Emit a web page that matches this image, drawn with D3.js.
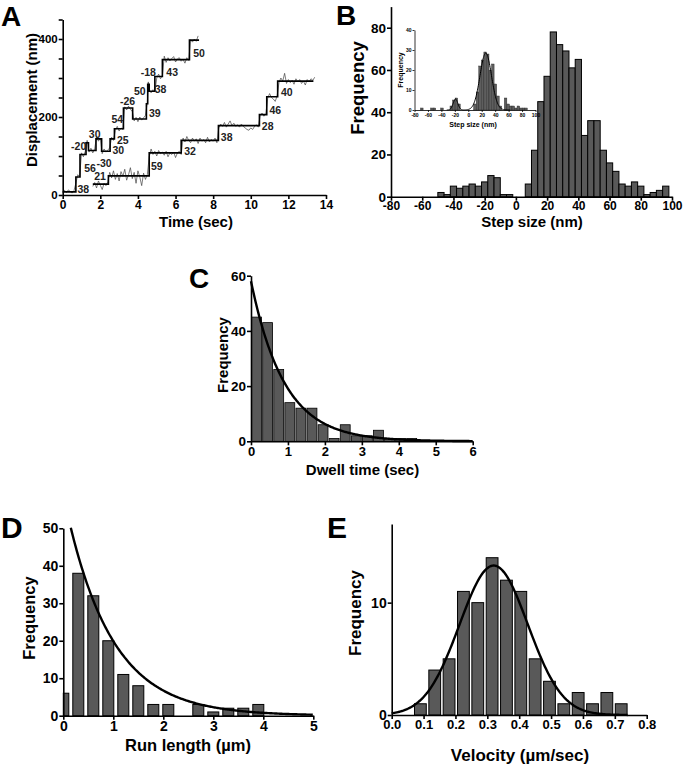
<!DOCTYPE html>
<html>
<head>
<meta charset="utf-8">
<script src="https://cdn.jsdelivr.net/npm/d3@7"></script>
<style>
  html, body { margin: 0; padding: 0; background: #fff; }
  svg { display: block; }
</style>
</head>
<body>
<svg id="fig" width="685" height="766"></svg>
<script>
// ---------------- DATA ----------------
// Panel A: raw traces [time (s), displacement (nm)]
const traceA1 = [[0,8],[0.1,12],[0.2,6],[0.3,13],[0.4,9],[0.5,5],[0.6,11],[0.7,30],[0.8,52],[0.9,47],
  [1.0,108],[1.1,98],[1.2,112],[1.3,140],[1.4,110],[1.5,120],[1.6,108],[1.7,118],[1.8,150],[1.9,138],
  [2.0,146],[2.1,106],[2.2,118],[2.3,110],[2.4,116],[2.5,120],[2.6,148],[2.7,140],[2.8,166],[2.9,176],
  [3.0,164],[3.1,172],[3.2,168],[3.3,226],[3.4,218],[3.5,228],[3.6,220],[3.7,214],[3.8,190],[3.9,199],
  [4.0,188],[4.1,200],[4.2,192],[4.3,198],[4.4,204],[4.5,238],[4.55,290],[4.6,270],[4.7,262],[4.8,270],
  [4.9,264],[5.0,300],[5.1,310],[5.2,298],[5.3,306],[5.4,356],[5.5,340],[5.6,352],[5.7,344],[5.8,350],
  [5.9,355],[6.0,341],[6.1,349],[6.2,352],[6.3,343],[6.4,348],[6.5,338],[6.6,352],[6.7,345],[6.8,398],
  [6.9,392],[7.0,400],[7.1,394],[7.2,408]];
const traceA2 = [[1.6,22],[1.7,32],[1.8,18],[1.9,36],[2.0,25],[2.1,14],[2.2,30],[2.3,24],[2.4,34],[2.5,58],
  [2.6,44],[2.7,62],[2.8,40],[2.9,55],[3.0,36],[3.1,60],[3.2,48],[3.3,66],[3.4,38],[3.5,52],[3.6,70],
  [3.7,42],[3.8,58],[3.9,30],[4.0,62],[4.1,46],[4.2,24],[4.3,56],[4.4,40],[4.5,52],[4.6,98],[4.7,118],
  [4.8,104],[4.9,112],[5.0,100],[5.1,114],[5.2,106],[5.3,110],[5.4,102],[5.5,112],[5.6,98],[5.7,108],
  [5.8,104],[5.9,110],[6.0,96],[6.1,108],[6.2,112],[6.3,104],[6.4,146],[6.5,136],[6.6,150],[6.7,140],
  [6.8,134],[6.9,146],[7.0,138],[7.1,144],[7.2,132],[7.3,146],[7.4,138],[7.5,142],[7.6,134],[7.7,148],
  [7.8,136],[7.9,142],[8.0,138],[8.1,146],[8.2,134],[8.3,172],[8.4,182],[8.5,176],[8.6,186],[8.7,174],
  [8.8,182],[8.9,190],[9.0,178],[9.1,184],[9.2,176],[9.3,180],[9.4,174],[9.5,182],[9.6,176],[9.7,172],
  [9.8,168],[9.9,166],[10.0,172],[10.1,168],[10.2,176],[10.3,180],[10.4,174],[10.5,204],[10.6,210],
  [10.7,202],[10.8,208],[10.9,248],[11.0,260],[11.1,250],[11.2,246],[11.3,240],[11.4,254],[11.5,288],
  [11.6,300],[11.7,292],[11.8,312],[11.9,286],[12.0,296],[12.1,288],[12.2,294],[12.3,284],[12.4,298],
  [12.5,290],[12.6,296],[12.7,286],[12.8,292],[12.9,282],[13.0,296],[13.1,290],[13.2,298],[13.3,294],[13.4,302]];
// fitted staircases
const stepTimesA1  = [0, 0.7, 0.92, 1.24, 1.37, 1.77, 2.07, 2.52, 2.75, 3.23, 3.72, 4.45, 4.52, 4.6, 4.9, 5.3, 6.74, 7.25];
const stepLevelsA1 = [8, 46, 104, 134, 114, 144, 112, 144, 170, 223, 195, 234, 284, 266, 304, 347, 397, 397];
const stepTimesA2  = [1.6, 2.43, 4.6, 6.3, 8.28, 10.46, 10.85, 11.43, 13.33];
const stepLevelsA2 = [28, 49, 108, 140, 178, 206, 252, 292, 292];
// step-size annotations [label, time, displacement]
const stepLabelsA = [["38",1.1,15],["56",1.45,68],["-20",0.85,126],["30",1.7,157],["-30",2.2,82],
  ["30",2.96,116],["25",3.2,141],["54",2.9,194],["-26",3.45,242],["39",4.9,210],["50",4.1,266],
  ["-18",4.55,316],["38",5.2,272],["43",5.82,316],["50",7.25,364],
  ["21",1.99,50],["59",5.0,75],["32",6.77,112],["38",8.72,150],["28",10.9,178],["46",11.3,218],["40",11.92,264]];
const ticksAx = [0,2,4,6,8,10,12,14];
const ticksAy = [0,50,100,150,200,250,300,350,400,450];

// Panel B: step-size histogram (bin start nm, width 4 nm)
const stepBinStart = [-50,-46,-42,-38,-34,-30,-26,-22,-18,-14,-10,-6,-2,2,6,10,14,18,22,26,30,34,38,42,46,50,54,58,62,66,70,74,78,82,86,90,94];
const stepCounts   = [2,1,5,4,5,6,5,7,10,9,1,1,0,0,6,22,45,57,78,72,69,61,65,29,36,36,22,16,12,6,5,7,5,1,2,3,5];
const ticksBx = [-80,-60,-40,-20,0,20,40,60,80,100];
const ticksBy = [0,20,40,60,80];
// Panel B inset histogram (bin width 3.8 nm)
const insetBinStart = [-71,-56,-52.2,-41,-27.2,-23.4,-19.6,-15.8,8,11.8,15.6,19.4,23.2,27,30.8,34.6,38.4,42.2,46,49.8,53.6,57.4,61.2,65,68.8,72.6,76.4,80.2,84];
const insetCounts   = [1,1,1,1,2,5,6,3,3,9,22,25,29,28,20,23,13,7,2,0,6,3,2,2,1,2,1,1,1];
const insetFit = {a1: 28.5, m1: 26, s1: 8.5, a2: 5.5, m2: -19, s2: 3.5};
const ticksInsetY = [0,10,20,30,40];

// Panel C: dwell time histogram (bin start s, width 0.3 s)
const dwellBinStart = [0,0.3,0.6,0.9,1.2,1.5,1.8,2.1,2.4,2.7,3.0,3.3,3.6,3.9,4.2];
const dwellCounts   = [45,43,26,14,12,12,6,1,6,2,2,4,1,1,1];
const dwellFit = {a: 58, tau: 0.9};
const ticksCx = [0,1,2,3,4,5,6];
const ticksCy = [0,20,40,60];

// Panel D: run length histogram (bin centre µm)
const runCenters = [0,0.3,0.6,0.9,1.2,1.5,1.8,2.1,2.4,2.7,3.0,3.3,3.6,3.9];
const runCounts  = [6,38,32,20,11,8,3,3,0,3,1,2,2,3];
const runFit = {a: 59, tau: 0.92, start: 0.15};
const ticksDx = [0,1,2,3,4,5];
const ticksDy = [0,10,20,30,40,50];

// Panel E: velocity histogram (bin centre µm/s)
const velCenters = [0.09,0.135,0.18,0.225,0.27,0.315,0.36,0.405,0.45,0.495,0.54,0.585,0.63,0.675,0.72];
const velCounts  = [1,4,5,11,10,14,12,11,5,3,1,2,1,2,1];
const velFit = {a: 13.3, mu: 0.32, sigma: 0.107};
const ticksEx = [0,0.1,0.2,0.3,0.4,0.5,0.6,0.7,0.8];
const ticksEy = [0,10];

// ---------------- DRAWING ----------------
const FONT = "'Liberation Sans', Arial, Helvetica, sans-serif";
const BAR = "#595959";
const svg = d3.select("#fig");
svg.append("rect").attr("width",685).attr("height",766).attr("fill","#fff");

function axes(g, x, y, o) {
  const bx = g.append("g").attr("transform", `translate(0,${y.range()[0]})`)
    .call(d3.axisBottom(x).tickValues(o.xt).tickFormat(o.xf || (d => d)).tickSize(o.ts || 4).tickSizeOuter(0).tickPadding(o.xpad || 1));
  const ly = g.append("g").attr("transform", `translate(${x.range()[0]},0)`)
    .call(d3.axisLeft(y).tickValues(o.yt).tickFormat(o.yf || (d => d)).tickSize(o.ts || 4).tickSizeOuter(0).tickPadding(o.ypad || 1));
  [bx, ly].forEach(a => {
    a.select(".domain").attr("stroke", "#000").attr("stroke-width", o.sw || 1.6);
    a.selectAll(".tick line").attr("stroke", "#000").attr("stroke-width", o.sw || 1.6);
    a.selectAll("text").attr("font-family", FONT).attr("font-weight", "bold").attr("fill", "#000");
  });
  bx.selectAll("text").attr("font-size", o.xfs);
  ly.selectAll("text").attr("font-size", o.yfs);
  return {bx, ly};
}
function title(x, y, text, size, rot) {
  const t = svg.append("text").attr("font-family", FONT).attr("font-weight", "bold")
    .attr("font-size", size).attr("text-anchor", "middle").attr("fill", "#000").text(text);
  if (rot) t.attr("dominant-baseline", "central").attr("transform", `translate(${x},${y}) rotate(-90)`);
  else t.attr("x", x).attr("y", y);
  return t;
}
function letter(x, y, s, size) {
  svg.append("text").attr("x", x).attr("y", y).attr("font-family", FONT).attr("font-weight", "bold")
    .attr("font-size", size).attr("fill", "#000").text(s);
}

// ---- Panel A ----
{
  const x = d3.scaleLinear().domain([0,14]).range([62.7, 326]);
  const y = d3.scaleLinear().domain([0,450]).range([195, 19.5]);
  const g = svg.append("g");
  const raw = d3.line().x(d => x(d[0])).y(d => y(d[1]));
  [traceA1, traceA2].forEach(tr => g.append("path").attr("d", raw(tr)).attr("fill","none")
    .attr("stroke","#444").attr("stroke-width",0.7));
  const stp = d3.line().x(d => x(d[0])).y(d => y(d[1])).curve(d3.curveStepAfter);
  [[stepTimesA1, stepLevelsA1],[stepTimesA2, stepLevelsA2]].forEach(([ts, ls]) =>
    g.append("path").attr("d", stp(ts.map((t,i) => [t, ls[i]]))).attr("fill","none")
      .attr("stroke","#000").attr("stroke-width",1.6));
  g.selectAll("text.lab").data(stepLabelsA).join("text").attr("class","lab")
    .attr("x", d => x(d[1])).attr("y", d => y(d[2])).attr("text-anchor","middle").attr("dominant-baseline","central")
    .attr("font-family", FONT).attr("font-weight","bold").attr("font-size",10.5).attr("fill","#222").text(d => d[0]);
  axes(g, x, y, {xt: ticksAx, yt: ticksAy, yf: d => (d % 200 === 0 ? d : ""), xfs: 12, yfs: 11.5});
  title(31, 100, "Displacement (nm)", 15, true);
  title(196, 227, "Time (sec)", 15);
  letter(1, 26, "A", 28);
}

// ---- Panel B ----
{
  const x = d3.scaleLinear().domain([-80,100]).range([391, 672]);
  const y = d3.scaleLinear().domain([0,90]).range([196.7, 6.6]);
  const g = svg.append("g");
  g.selectAll("rect.bar").data(stepBinStart).join("rect").attr("class","bar")
    .attr("x", d => x(d)).attr("width", d => x(d+4) - x(d))
    .attr("y", (d,i) => y(stepCounts[i])).attr("height", (d,i) => y(0) - y(stepCounts[i]))
    .attr("fill", BAR).attr("stroke","#000").attr("stroke-width",1);
  axes(g, x, y, {xt: ticksBx, yt: ticksBy, xfs: 12, yfs: 13.5});
  title(357.5, 88, "Frequency", 18.5, true);
  title(532, 227, "Step size (nm)", 15);
  letter(336, 25, "B", 28);

  // inset
  const xi = d3.scaleLinear().domain([-80,100]).range([414.5, 535.5]);
  const yi = d3.scaleLinear().domain([0,40]).range([110, 30]);
  const gi = svg.append("g");
  gi.selectAll("rect.ibar").data(insetBinStart).join("rect").attr("class","ibar")
    .attr("x", d => xi(d)).attr("width", d => xi(d+3.8) - xi(d))
    .attr("y", (d,i) => yi(insetCounts[i])).attr("height", (d,i) => yi(0) - yi(insetCounts[i]))
    .attr("fill", "#5e5e5e").attr("stroke","#222").attr("stroke-width",0.4);
  const f = insetFit;
  const gauss2 = v => f.a1*Math.exp(-((v-f.m1)**2)/(2*f.s1*f.s1)) + f.a2*Math.exp(-((v-f.m2)**2)/(2*f.s2*f.s2));
  gi.append("path").attr("d", d3.line().x(v => xi(v)).y(v => yi(gauss2(v)))(d3.range(-32, 62.5, 0.5)))
    .attr("fill","none").attr("stroke","#000").attr("stroke-width",1);
  axes(gi, xi, yi, {xt: ticksBx, yt: ticksInsetY, xfs: 5, yfs: 5, ts: 2, sw: 0.8, xpad: 1, ypad: 1});
  title(400, 70, "Frequency", 7, true);
  title(473, 127, "Step size (nm)", 7);
}

// ---- Panel C ----
{
  const x = d3.scaleLinear().domain([0,6]).range([251, 472.7]);
  const y = d3.scaleLinear().domain([0,60]).range([441.3, 275.7]);
  const g = svg.append("g");
  g.selectAll("rect.bar").data(dwellBinStart).join("rect").attr("class","bar")
    .attr("x", d => x(d) + 0.6).attr("width", d => x(d+0.3) - x(d) - 1.2)
    .attr("y", (d,i) => y(dwellCounts[i])).attr("height", (d,i) => y(0) - y(dwellCounts[i]))
    .attr("fill", BAR).attr("stroke","#000").attr("stroke-width",0.8);
  g.append("path").attr("d", d3.line().x(t => x(t)).y(t => y(dwellFit.a*Math.exp(-t/dwellFit.tau)))(d3.range(0, 6.001, 0.02)))
    .attr("fill","none").attr("stroke","#000").attr("stroke-width",2.4);
  axes(g, x, y, {xt: ticksCx, yt: ticksCy, xfs: 13, yfs: 13.5});
  title(222.5, 355, "Frequency", 15, true);
  title(362.5, 475, "Dwell time (sec)", 15);
  letter(189, 288, "C", 28);
}

// ---- Panel D ----
{
  const x = d3.scaleLinear().domain([0,5]).range([63.3, 313.3]);
  const y = d3.scaleLinear().domain([0,50]).range([715.7, 528.3]);
  const g = svg.append("g");
  const w = 0.22;
  g.selectAll("rect.bar").data(runCenters).join("rect").attr("class","bar")
    .attr("x", d => x(Math.max(0, d - w/2))).attr("width", d => x(d + w/2) - x(Math.max(0, d - w/2)))
    .attr("y", (d,i) => y(runCounts[i])).attr("height", (d,i) => y(0) - y(runCounts[i]))
    .attr("fill", BAR).attr("stroke","#000").attr("stroke-width",1);
  g.append("path").attr("d", d3.line().x(t => x(t)).y(t => y(runFit.a*Math.exp(-t/runFit.tau)))(d3.range(runFit.start, 5.001, 0.02)))
    .attr("fill","none").attr("stroke","#000").attr("stroke-width",2.4);
  axes(g, x, y, {xt: ticksDx, yt: ticksDy, xfs: 14, yfs: 14});
  title(29, 618, "Frequency", 16.5, true);
  title(188, 751, "Run length (µm)", 16.5);
  letter(1, 538, "D", 30);
}

// ---- Panel E ----
{
  const x = d3.scaleLinear().domain([0,0.8]).range([391.7, 646.7]);
  const y = d3.scaleLinear().domain([0,17]).range([715, 524]);
  const g = svg.append("g");
  const w = 0.037;
  g.selectAll("rect.bar").data(velCenters).join("rect").attr("class","bar")
    .attr("x", d => x(d - w/2)).attr("width", d => x(d + w/2) - x(d - w/2))
    .attr("y", (d,i) => y(velCounts[i])).attr("height", (d,i) => y(0) - y(velCounts[i]))
    .attr("fill", BAR).attr("stroke","#000").attr("stroke-width",1);
  const gs = v => velFit.a*Math.exp(-((v-velFit.mu)**2)/(2*velFit.sigma*velFit.sigma));
  g.append("path").attr("d", d3.line().x(v => x(v)).y(v => y(gs(v)))(d3.range(0, 0.741, 0.004)))
    .attr("fill","none").attr("stroke","#000").attr("stroke-width",2.4);
  axes(g, x, y, {xt: ticksEx, yt: ticksEy, xf: d3.format(".1f"), xfs: 13, yfs: 14});
  title(355.5, 613, "Frequency", 17, true);
  title(520, 761, "Velocity (µm/sec)", 17);
  letter(327, 538, "E", 30);
}
</script>
</body>
</html>
